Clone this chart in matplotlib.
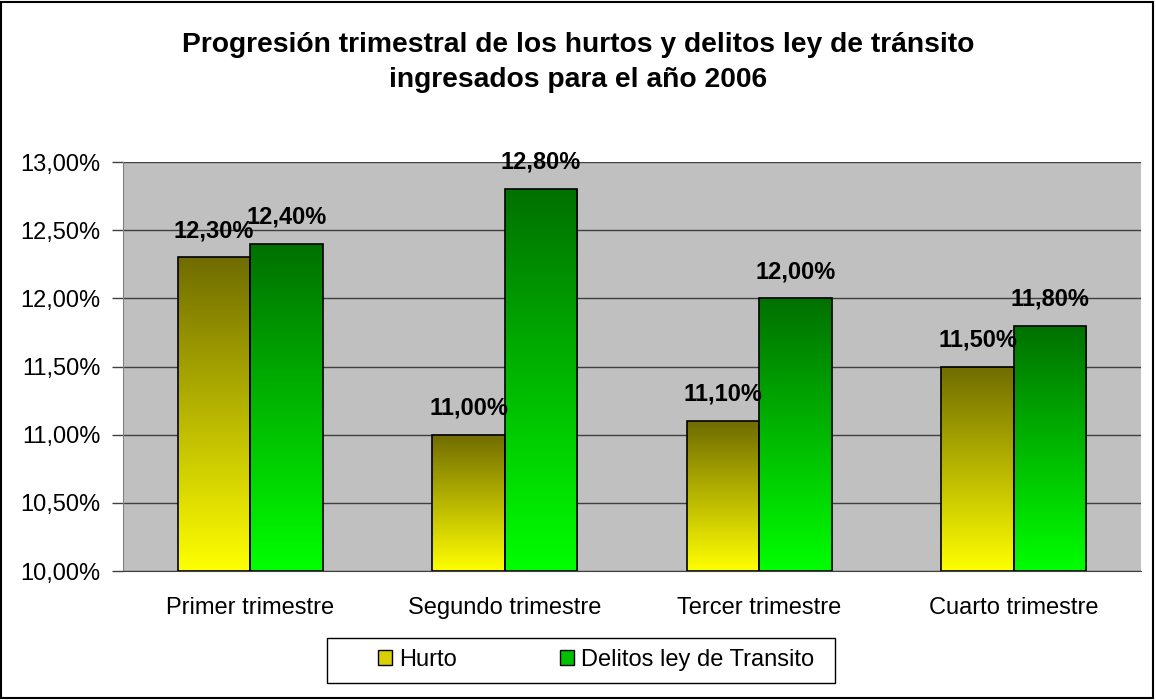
import matplotlib
matplotlib.use("Agg")
import matplotlib.pyplot as plt
import numpy as np
from matplotlib.colors import LinearSegmentedColormap
from matplotlib.patches import Rectangle

plt.rcParams['font.family'] = ['Liberation Sans', 'DejaVu Sans']

categories = ["Primer trimestre", "Segundo trimestre", "Tercer trimestre", "Cuarto trimestre"]
hurto = [12.30, 11.00, 11.10, 11.50]
transito = [12.40, 12.80, 12.00, 11.80]
series_names = ["Hurto", "Delitos ley de Transito"]
labels_h = ["12,30%", "11,00%", "11,10%", "11,50%"]
labels_t = ["12,40%", "12,80%", "12,00%", "11,80%"]
yticks = [10.0, 10.5, 11.0, 11.5, 12.0, 12.5, 13.0]
ytick_labels = ["10,00%", "10,50%", "11,00%", "11,50%", "12,00%", "12,50%", "13,00%"]

fig = plt.figure(figsize=(11.56, 7.0), dpi=100)
W, H = 1156, 700
ax = fig.add_axes([123 / W, 1 - 571 / H, (1141 - 123) / W, (571 - 162) / H])
ax.set_facecolor("#C0C0C0")

cmap_h = LinearSegmentedColormap.from_list("h", ["#FFFF00", "#706C00"])
cmap_t = LinearSegmentedColormap.from_list("t", ["#00FF00", "#007000"])
grad = np.linspace(0, 1, 256).reshape(-1, 1)

bw = 0.285
x = np.arange(len(categories))
for vals, off, cmap, labs in [(hurto, -bw / 2, cmap_h, labels_h), (transito, bw / 2, cmap_t, labels_t)]:
    bars = ax.bar(x + off, [v - 10.0 for v in vals], bw, bottom=10.0, facecolor="none",
                  edgecolor="black", linewidth=1.2, zorder=3)
    for b, v, lab in zip(bars, vals, labs):
        x0 = b.get_x()
        im = ax.imshow(grad, cmap=cmap, extent=[x0, x0 + bw, 10.0, v], origin="lower",
                       aspect="auto", zorder=2)
        im.set_clip_path(b)
        ax.annotate(lab, (x0 + bw / 2, v), xytext=(0, 11), textcoords="offset points",
                    ha="center", va="bottom", fontsize=17, fontweight="bold", zorder=5)
ax.set_xlim(-0.5, 3.5)
ax.set_ylim(10.0, 13.0)

ax.set_yticks(yticks)
ax.set_yticklabels(ytick_labels, fontsize=17)
ax.set_xticks(x)
ax.set_xticklabels(categories, fontsize=17)
ax.tick_params(axis="x", length=0, pad=19)
ax.tick_params(axis="y", length=8, width=1, color="#404040", pad=8)
ax.yaxis.grid(True, color="#404040", linewidth=1)
ax.set_axisbelow(True)
for s in ["top", "right"]:
    ax.spines[s].set_visible(False)
ax.spines["left"].set_color("#808080")
ax.spines["bottom"].set_color("#404040")

fig.text(578 / W, 1 - 45 / H, "Progresión trimestral de los hurtos y delitos ley de tránsito",
         ha="center", va="center", fontsize=20.3, fontweight="bold")
fig.text(578 / W, 1 - 80 / H, "ingresados para el año 2006",
         ha="center", va="center", fontsize=20.3, fontweight="bold")

handles = [Rectangle((0, 0), 1, 1, facecolor="#D8D000", edgecolor="black"),
           Rectangle((0, 0), 1, 1, facecolor="#00C000", edgecolor="black")]
leg = fig.legend(handles, series_names, loc="center", bbox_to_anchor=(596 / W, 1 - 660 / H),
                 ncol=2, fontsize=17, frameon=False,
                 handlelength=0.6, handleheight=0.6, columnspacing=4.35, handletextpad=0.3,
                 borderpad=0.0, borderaxespad=0)

fig.patches.append(Rectangle((327 / W, 1 - 683 / H), (835 - 327) / W, 45 / H,
                             transform=fig.transFigure, fill=False, edgecolor="black",
                             linewidth=1))
fig.patches.append(Rectangle((1 / W, 2 / H), 1 - 4 / W, 1 - 4 / H, transform=fig.transFigure,
                             fill=False, edgecolor="black", linewidth=1.5))

fig.savefig("out.png", dpi=100, facecolor="white")
